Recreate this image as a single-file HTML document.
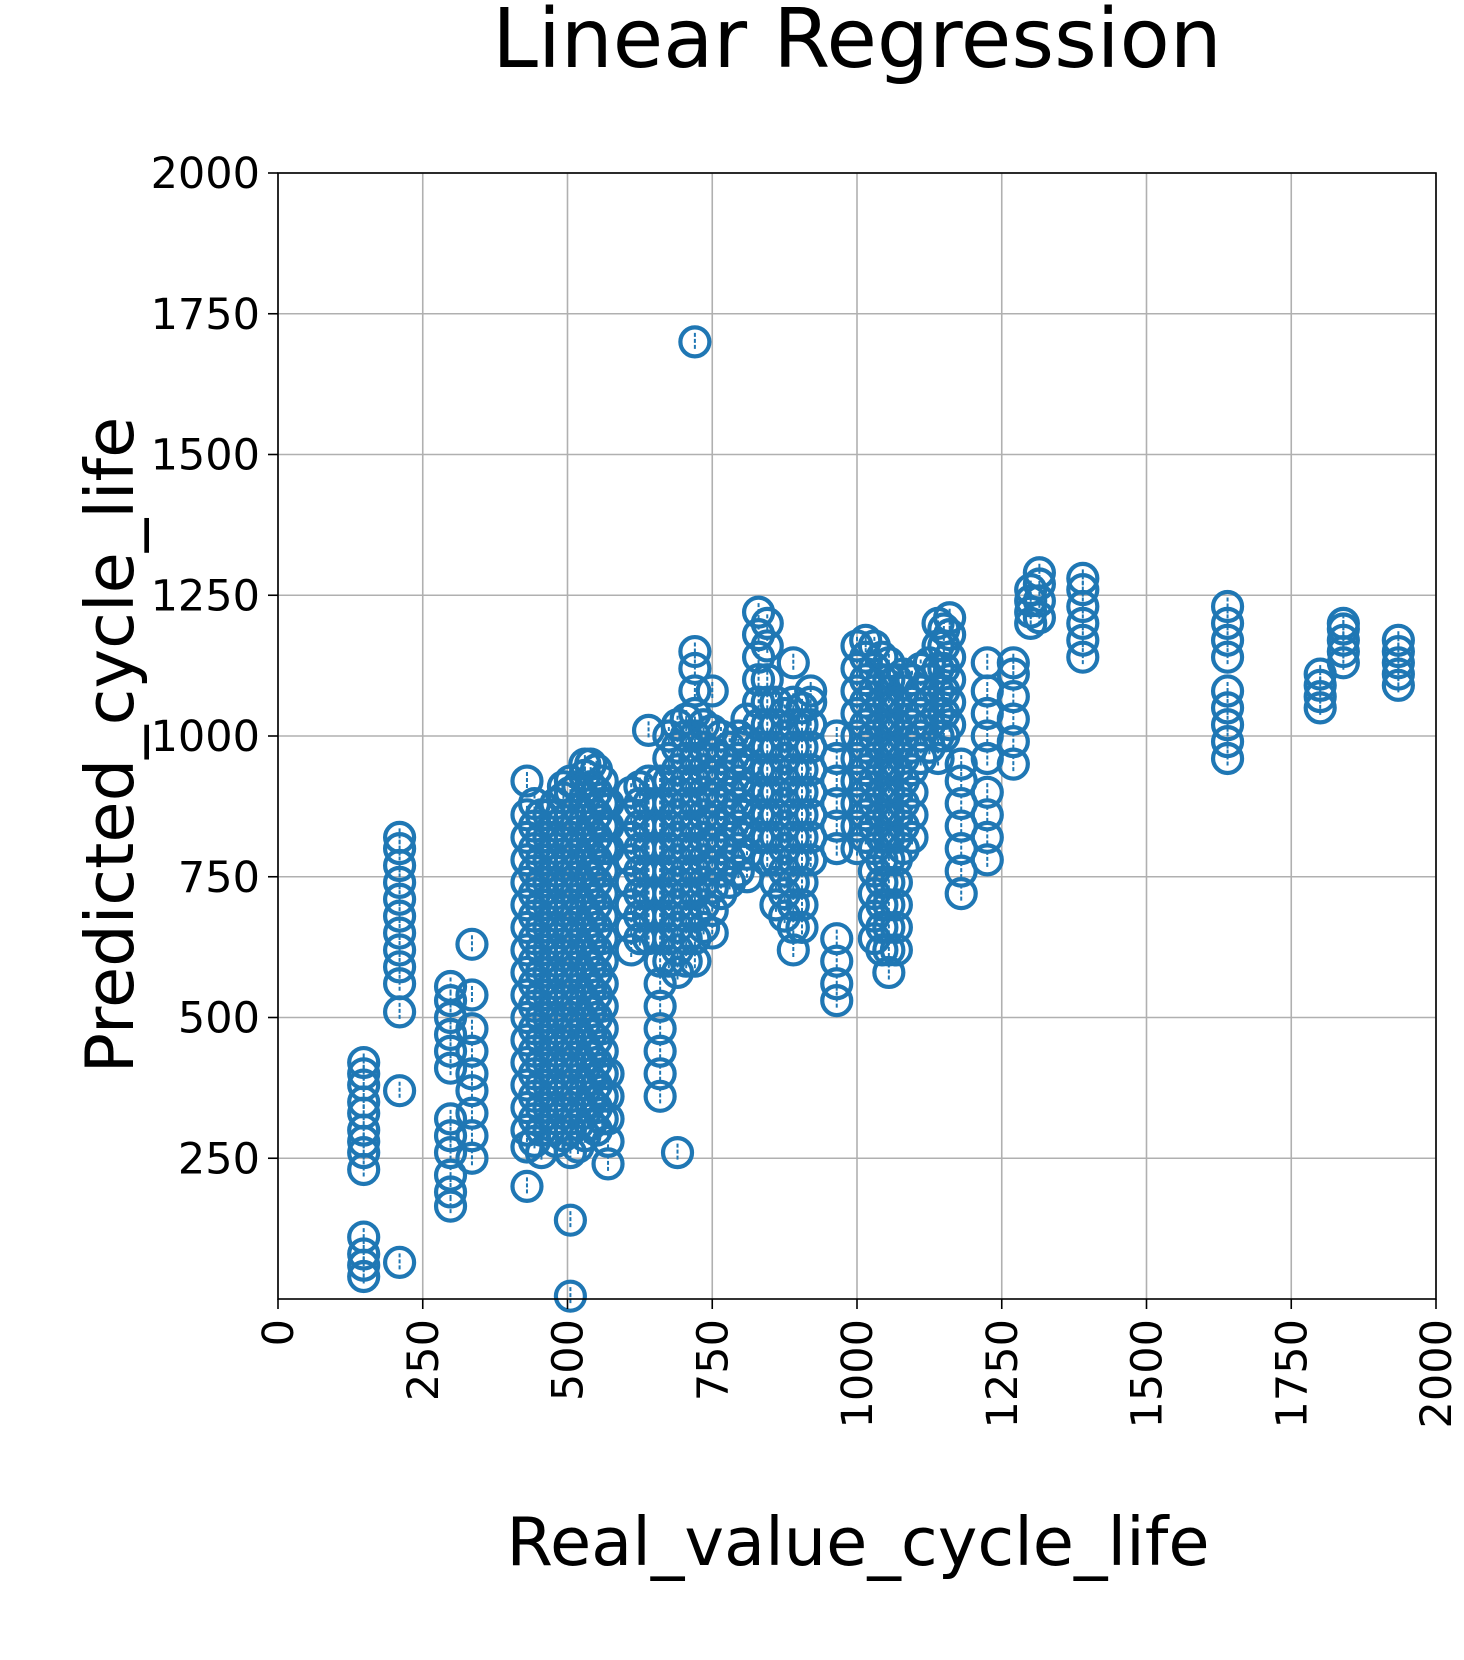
<!DOCTYPE html>
<html><head><meta charset="utf-8"><style>
html,body{margin:0;padding:0;background:#fff;}
svg{display:block;font-family:"DejaVu Sans","Liberation Sans",sans-serif;}
</style></head><body>
<svg id="chart" width="1464" height="1660" viewBox="0 0 1464 1660">
<text x="857" y="67" font-size="82" text-anchor="middle">Linear Regression</text>
<g id="grid"></g>
<g id="points"></g>
<rect x="278" y="173" width="1158" height="1126" fill="none" stroke="#000" stroke-width="1.6"/>
<g id="axes"></g>
<text x="858" y="1565" font-size="67" text-anchor="middle">Real_value_cycle_life</text>
<text transform="translate(133,745) rotate(-90)" font-size="67" text-anchor="middle">Predicted_cycle_life</text>
</svg>
<script>
const xTicks = [0,250,500,750,1000,1250,1500,1750,2000];
const yTicks = [250,500,750,1000,1250,1500,1750,2000];
const colX = [148,210,298,335,430,455,480,505,530,550,570,610,640,660,690,720,750,780,810,830,860,890,920,965,1000,1030,1055,1080,1110,1140,1160,1180,1225,1270,1300,1315,1390,1640,1800,1840,1935,
443,468,493,518,540,560,625,675,705,735,765,795,845,875,905,1015,1043,1068,1095,1125,1150];
const colY = [
[40,60,80,110,230,260,280,300,330,350,380,400,420],
[65,370,510,560,590,620,650,680,710,740,770,800,820],
[165,190,220,260,290,320,410,440,470,500,530,555],
[250,290,330,370,400,440,480,540,630],
[200,270,300,340,380,420,460,500,540,580,620,660,700,740,780,820,860,920],
[260,300,340,380,420,460,500,540,580,620,660,700,740,780,820,860],
[280,320,360,400,440,480,520,560,600,640,680,720,760,800,840,880],
[5,140,260,300,340,380,420,460,500,540,580,620,660,700,740,780,820,860,900,920],
[290,330,370,410,450,490,530,570,610,650,690,730,770,810,850,890,930,950],
[300,340,380,420,460,500,540,580,620,660,700,740,780,820,860,900,940],
[240,280,320,360,400,800,840,880],
[620,660,700,740,780,820,860,900],
[640,680,720,760,800,840,880,920,1010],
[360,400,440,480,520,560,600,640,680,720,760,800,840,880,920],
[260,580,620,660,700,740,780,820,860,900,940,980,1020],
[600,640,680,720,760,800,840,880,920,960,1000,1040,1080,1120,1150,1700],
[650,690,730,770,810,850,890,930,970,1010,1080],
[740,780,820,860,900,940,980],
[750,790,830,870,910,950,990,1030],
[820,860,900,940,980,1020,1060,1100,1140,1180,1220],
[700,740,780,820,860,900,940,980,1020,1060],
[620,660,700,740,780,820,860,900,940,980,1020,1060,1130],
[780,820,860,900,940,980,1020,1060,1080],
[530,560,600,640,800,840,880,920,960,1000],
[800,840,880,920,960,1000,1040,1080,1120,1160],
[640,680,720,760,800,840,880,920,960,1000,1040,1080,1120,1160],
[580,620,660,700,740,780,820,860,900,940,980,1020,1060,1100,1130],
[800,840,880,920,960,1000,1040,1080,1110],
[960,1000,1040,1080,1120],
[960,1000,1040,1080,1120,1160,1200],
[1020,1060,1100,1140,1180,1210],
[720,760,800,840,880,920,950],
[780,820,860,900,960,1000,1040,1080,1130],
[950,990,1030,1070,1110,1130],
[1200,1220,1240,1260],
[1210,1240,1270,1290],
[1140,1170,1200,1230,1260,1280],
[960,990,1020,1050,1080,1140,1170,1200,1230],
[1050,1070,1090,1110],
[1130,1150,1170,1190,1200],
[1090,1110,1130,1150,1170],
[280,320,360,400,440,480,520,560,600,640,680,720,760,800,840,880],
[300,340,380,420,460,500,540,580,620,660,700,740,780,820,860],
[290,330,370,410,450,490,530,570,610,650,690,730,770,810,850,890,910],
[270,310,350,390,430,470,510,550,590,630,670,710,750,790,830,870,910],
[310,350,390,430,470,510,550,590,630,670,710,750,790,830,870,910,950],
[320,360,400,440,480,520,560,600,640,680,720,760,800,840,880,920],
[640,680,720,760,800,840,880,910],
[600,640,680,720,760,800,840,880,920,960,1000],
[600,640,680,720,760,800,840,880,920,960,1000,1030],
[660,700,740,780,820,860,900,940,980,1020],
[720,760,800,840,880,920,960,1000],
[760,800,840,880,920,960,1000],
[780,820,860,900,940,980,1020,1060,1100,1160,1200],
[680,720,760,800,840,880,920,960,1000,1040],
[660,700,740,780,820,860,900,940,980,1020,1050],
[820,860,900,940,980,1020,1060,1100,1140,1170],
[620,660,700,740,780,820,860,900,940,980,1020,1060,1100,1140],
[620,660,700,740,780,820,860,900,940,980,1020,1060,1100],
[820,860,900,940,980,1020,1060,1100],
[980,1020,1060,1100,1130],
[1000,1040,1080,1120,1160,1190]
];
const NS="http://www.w3.org/2000/svg";
const X0=278,X1=1436,Y0=1299,Y1=173;
function sx(v){return X0+(v/2000)*(X1-X0);}
function sy(v){return Y0-(v/2000)*(Y0-Y1);}
function mk(t,a){const e=document.createElementNS(NS,t);for(const k in a)e.setAttribute(k,a[k]);return e;}
const grid=document.getElementById('grid'),axes=document.getElementById('axes'),pts=document.getElementById('points');
xTicks.forEach(v=>{
  const g=mk('line',{x1:sx(v),x2:sx(v),y1:Y1,y2:Y0,stroke:'#b0b0b0','stroke-width':1.6});
  
  
  grid.appendChild(g);
  const t=mk('line',{x1:sx(v),x2:sx(v),y1:Y0,y2:Y0+10,stroke:'#000','stroke-width':1.6});
  
  
  axes.appendChild(t);
  const l=mk('text',{'font-size':43,'text-anchor':'end',transform:`translate(${sx(v)+15},${Y0+20}) rotate(-90)`});
  l.textContent=v;
  
  
  axes.appendChild(l);
});
yTicks.forEach(v=>{
  const g=mk('line',{x1:X0,x2:X1,y1:sy(v),y2:sy(v),stroke:'#b0b0b0','stroke-width':1.6});
  
  
  grid.appendChild(g);
  const t=mk('line',{x1:X0-10,x2:X0,y1:sy(v),y2:sy(v),stroke:'#000','stroke-width':1.6});
  
  
  axes.appendChild(t);
  const l=mk('text',{x:X0-18,y:sy(v)+15,'font-size':43,'text-anchor':'end'});
  l.textContent=v;
  
  
  axes.appendChild(l);
});
colX.forEach((x,i)=>{
  colY[i].forEach(y=>{
    const c=mk('circle',{cx:sx(x),cy:sy(y),r:14.5,fill:'none',stroke:'#1f77b4','stroke-width':4.2});
    
    
    pts.appendChild(c);
    const ln=mk('line',{x1:sx(x),x2:sx(x),y1:sy(y)-9,y2:sy(y)+9,stroke:'#1f77b4','stroke-width':2,'stroke-dasharray':'4 2'});
    
    
    pts.appendChild(ln);
  });
});
</script>
</body></html>
